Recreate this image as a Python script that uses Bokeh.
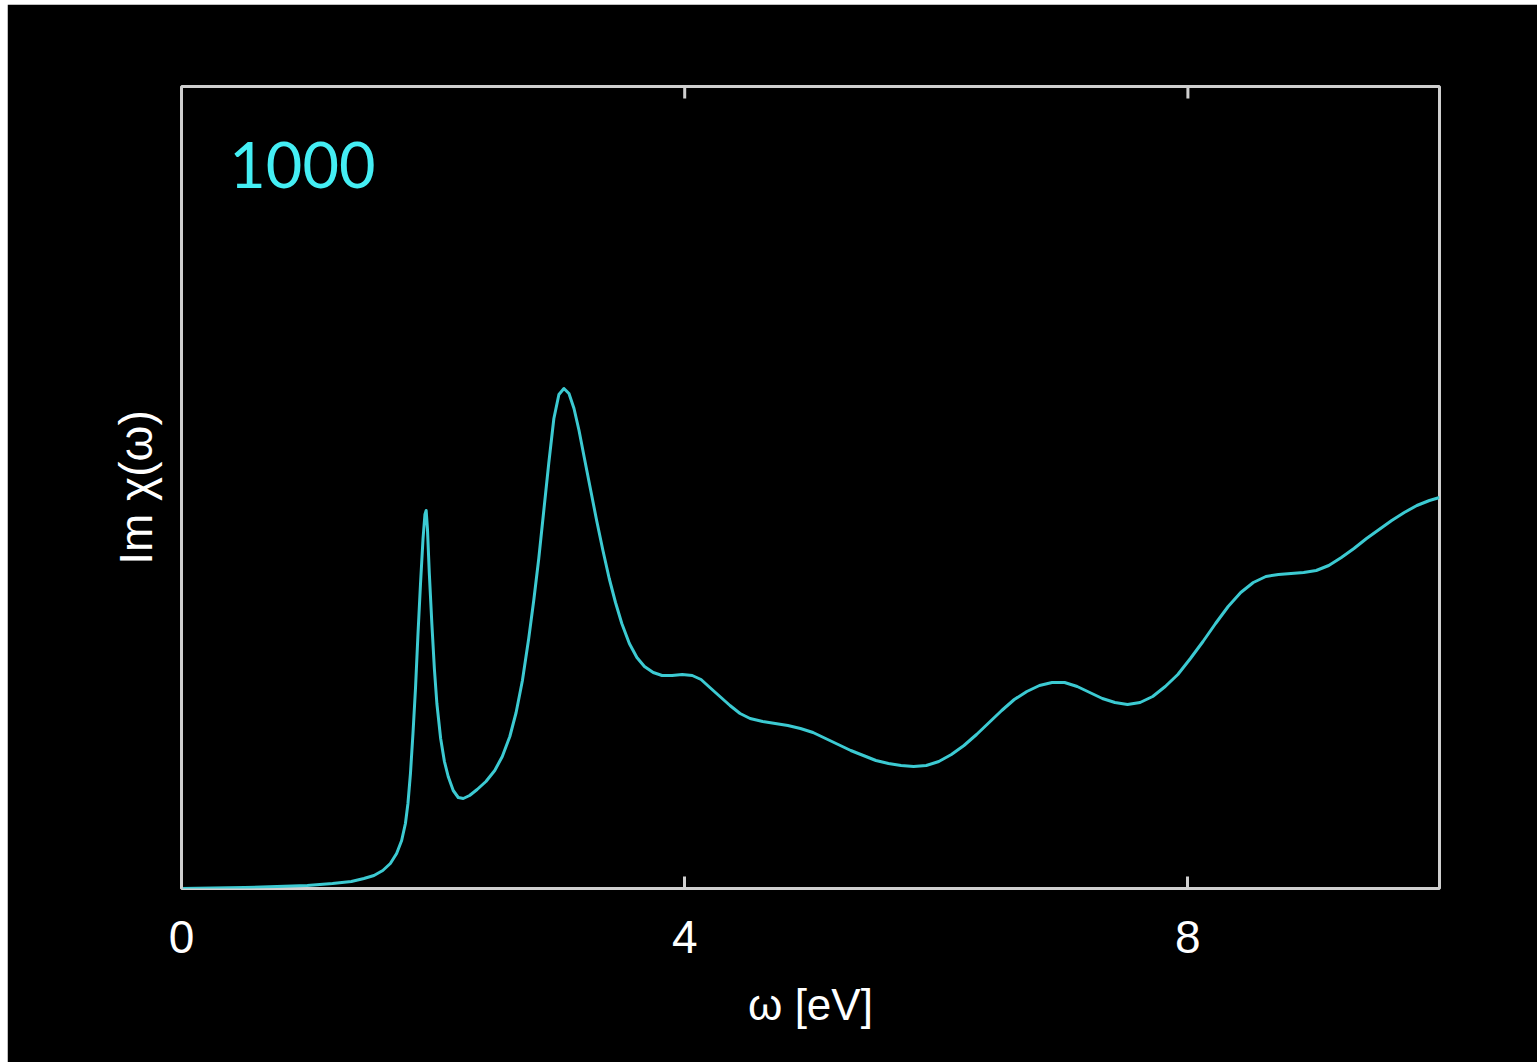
from bokeh.plotting import figure
from bokeh.models import Range1d, FixedTicker, Label, Spacer, ColumnDataSource
from bokeh.layouts import column, row
from bokeh.embed import file_html
from bokeh.resources import INLINE

# Imaginary part of the susceptibility vs photon energy (arbitrary units)
omega = [0.00, 0.50, 1.00, 1.20, 1.35, 1.45, 1.53, 1.60, 1.66, 1.71,
         1.75, 1.78, 1.80, 1.82, 1.84, 1.86, 1.88, 1.90, 1.92, 1.935,
         1.945, 1.955, 1.97, 1.99, 2.01, 2.03, 2.06, 2.09, 2.12, 2.16,
         2.20, 2.24, 2.29, 2.35, 2.42, 2.49, 2.55, 2.61, 2.66, 2.71,
         2.76, 2.80, 2.84, 2.88, 2.92, 2.96, 3.00, 3.04, 3.08, 3.12,
         3.16, 3.20, 3.25, 3.30, 3.35, 3.40, 3.45, 3.50, 3.56, 3.62,
         3.68, 3.75, 3.82, 3.90, 3.98, 4.06, 4.13, 4.20, 4.28, 4.36,
         4.44, 4.52, 4.62, 4.72, 4.82, 4.92, 5.02, 5.12, 5.22, 5.32,
         5.42, 5.52, 5.62, 5.72, 5.82, 5.92, 6.02, 6.12, 6.22, 6.32,
         6.42, 6.52, 6.62, 6.72, 6.82, 6.92, 7.02, 7.12, 7.22, 7.32,
         7.42, 7.52, 7.62, 7.72, 7.82, 7.92, 8.02, 8.12, 8.22, 8.32,
         8.42, 8.52, 8.62, 8.72, 8.82, 8.92, 9.02, 9.12, 9.22, 9.32,
         9.42, 9.52, 9.62, 9.72, 9.82, 9.92, 10.00]
im_chi = [0.00, 0.01, 0.03, 0.05, 0.07, 0.10, 0.13, 0.18, 0.25, 0.35,
          0.48, 0.65, 0.85, 1.15, 1.55, 2.00, 2.55, 3.05, 3.50, 3.74,
          3.78, 3.60, 3.15, 2.65, 2.20, 1.85, 1.50, 1.27, 1.12, 0.98,
          0.91, 0.90, 0.93, 0.99, 1.07, 1.18, 1.32, 1.52, 1.76, 2.08,
          2.50, 2.88, 3.30, 3.78, 4.26, 4.70, 4.94, 5.00, 4.95, 4.80,
          4.58, 4.32, 4.00, 3.68, 3.38, 3.10, 2.86, 2.65, 2.45, 2.31,
          2.22, 2.16, 2.13, 2.13, 2.14, 2.13, 2.09, 2.01, 1.92, 1.83,
          1.75, 1.70, 1.67, 1.65, 1.63, 1.60, 1.56, 1.50, 1.44, 1.38,
          1.33, 1.28, 1.25, 1.23, 1.22, 1.23, 1.27, 1.34, 1.43, 1.54,
          1.66, 1.78, 1.89, 1.97, 2.03, 2.06, 2.06, 2.02, 1.96, 1.90,
          1.86, 1.84, 1.86, 1.92, 2.02, 2.14, 2.30, 2.47, 2.65, 2.82,
          2.96, 3.06, 3.12, 3.14, 3.15, 3.16, 3.18, 3.23, 3.31, 3.40,
          3.50, 3.59, 3.68, 3.76, 3.83, 3.88, 3.91]

x_ticks = [0, 4, 8]
tag_text = "1000"

FRAME = "#cfcfcf"
CURVE = "#3ccad2"
TAG = "#44eef4"

Y_MAX = 8.02
TICK_LEN = 0.12  # inward tick length along y, in data units

p = figure(width=1530, height=1058,
           x_range=Range1d(0, 10), y_range=Range1d(0, Y_MAX),
           output_backend="svg", toolbar_location=None,
           min_border_left=174, min_border_right=98,
           min_border_top=82, min_border_bottom=174,
           background_fill_color="black", border_fill_color="black")

p.outline_line_color = FRAME
p.outline_line_width = 3
p.xgrid.visible = False
p.ygrid.visible = False

xa = p.xaxis[0]
xa.ticker = FixedTicker(ticks=x_ticks)
xa.major_tick_in = 12
xa.major_tick_out = 0
xa.major_tick_line_color = FRAME
xa.major_tick_line_width = 3
xa.minor_tick_line_color = None
xa.axis_line_color = None
xa.major_label_text_color = "white"
xa.major_label_text_font = "Liberation Sans"
xa.major_label_text_font_size = "46px"
xa.major_label_standoff = 32
xa.axis_label = "ω [eV]"
xa.axis_label_text_color = "white"
xa.axis_label_text_font = "Liberation Sans"
xa.axis_label_text_font_size = "44px"
xa.axis_label_text_font_style = "normal"
xa.axis_label_standoff = 24

ya = p.yaxis[0]
ya.ticker = FixedTicker(ticks=[])
ya.major_tick_in = 0
ya.major_tick_out = 0
ya.minor_tick_line_color = None
ya.axis_line_color = None
ya.axis_label = "Im χ(ω)"
ya.axis_label_text_color = "white"
ya.axis_label_text_font = "Liberation Sans"
ya.axis_label_text_font_size = "46px"
ya.axis_label_text_font_style = "normal"
ya.axis_label_standoff = 20

# inward tick marks on the top edge of the frame
p.segment(x0=x_ticks, y0=[Y_MAX] * len(x_ticks),
          x1=x_ticks, y1=[Y_MAX - TICK_LEN] * len(x_ticks),
          line_color=FRAME, line_width=3)

src = ColumnDataSource(data=dict(omega=omega, im_chi=im_chi))
p.line("omega", "im_chi", source=src, line_color=CURVE, line_width=3,
       line_join="round")

p.add_layout(Label(x=0.38, y=7.24, text=tag_text, text_color=TAG,
                   text_font="Lato", text_font_size="63px",
                   text_baseline="alphabetic", text_align="left"))

layout = column(Spacer(width=1537, height=4),
                row(Spacer(width=7, height=1058), p))

open("out.html", "w").write(file_html(layout, INLINE))
